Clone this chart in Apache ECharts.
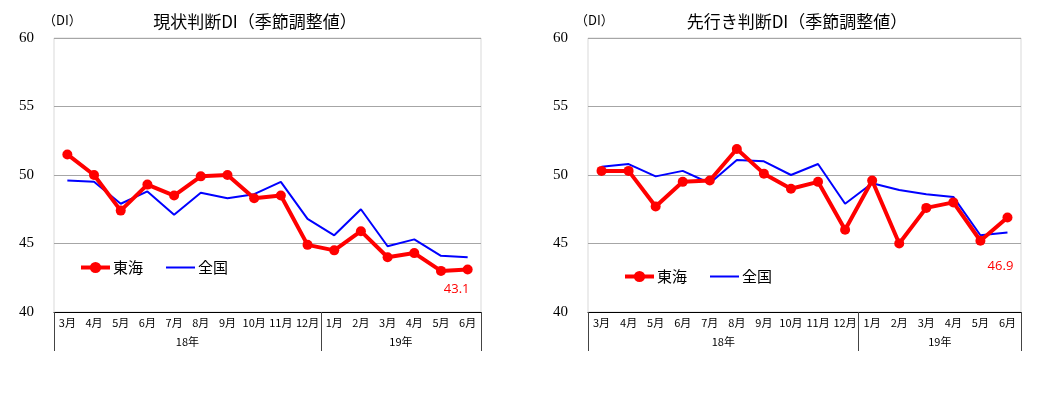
<!DOCTYPE html>
<html><head><meta charset="utf-8">
<script src="https://cdn.jsdelivr.net/npm/echarts@6/dist/echarts.min.js"></script>
<style>html,body{margin:0;padding:0;background:#fff}#c{width:1059px;height:393px}</style>
</head><body><div id="c"></div>
<script>
const months = ['3月','4月','5月','6月','7月','8月','9月','10月','11月','12月','1月','2月','3月','4月','5月','6月'];
const years = ['18年','19年'];
const yearBounds = [0, 10, 16];
const yTicks = [40, 45, 50, 55, 60];
const seriesNames = ['東海','全国'];
const titles = ['現状判断DI（季節調整値）','先行き判断DI（季節調整値）'];
const unitLabel = '（DI）';
const genzyoTokai = [51.5,50.0,47.4,49.3,48.5,49.9,50.0,48.3,48.5,44.9,44.5,45.9,44.0,44.3,43.0,43.1];
const genzyoZenkoku = [49.6,49.5,47.9,48.8,47.1,48.7,48.3,48.6,49.5,46.8,45.6,47.5,44.8,45.3,44.1,44.0];
const sakiTokai = [50.3,50.3,47.7,49.5,49.6,51.9,50.1,49.0,49.5,46.0,49.6,45.0,47.6,48.0,45.2,46.9];
const sakiZenkoku = [50.6,50.8,49.9,50.3,49.4,51.1,51.0,50.0,50.8,47.9,49.4,48.9,48.6,48.4,45.6,45.8];

const FONT = '"Noto Sans CJK JP", "Noto Sans", sans-serif';
const grids = [
  {left: 54, width: 427, top: 38, height: 274},
  {left: 588, width: 433, top: 38, height: 274}
];
const lastLabel = [
  {offset: [-11, 0], distance: 8},
  {offset: [-7, 0], distance: 37}
];
const panels = [[genzyoTokai, genzyoZenkoku], [sakiTokai, sakiZenkoku]];
const titleCenters = [250, 792];
const unitX = [38, 570];
const legendPos = [{left: 74, top: 255}, {left: 618, top: 264}];

const option = {
  animation: false,
  textStyle: {fontFamily: FONT},
  grid: grids.map(g => Object.assign({show: true, borderColor: '#d9d9d9', borderWidth: 1, backgroundColor: '#fff'}, g)),
  title: titles.map((t, i) => ({
    text: t, left: titleCenters[i], top: 8, textAlign: 'center',
    textStyle: {fontFamily: FONT, fontSize: 17, fontWeight: 'normal', color: '#000'}
  })).concat(unitX.map(x => ({
    text: unitLabel, left: x, top: 9,
    textStyle: {fontFamily: FONT, fontSize: 13, fontWeight: 'normal', color: '#000'}
  }))),
  legend: legendPos.map(p => ({
    data: [{name: seriesNames[0]}, {name: seriesNames[1], itemStyle: {opacity: 0}}],
    left: p.left, top: p.top, itemWidth: 29, itemHeight: 14, itemGap: 22,
    lineStyle: {width: 'inherit'},
    textStyle: {fontFamily: FONT, fontSize: 15, color: '#000', padding: [0, 0, 0, -2]}
  })),
  xAxis: [],
  yAxis: grids.map((g, i) => ({
    gridIndex: i, type: 'value', min: yTicks[0], max: yTicks[yTicks.length - 1], interval: 5,
    axisLine: {show: false}, axisTick: {show: false},
    axisLabel: {margin: 20, fontFamily: '"Liberation Serif", serif', fontSize: 15, color: '#000'},
    splitLine: {lineStyle: {color: '#a6a6a6', width: 1}}
  })),
  series: []
};

grids.forEach((g, i) => {
  option.xAxis.push({
    gridIndex: i, type: 'category', data: months, boundaryGap: true, position: 'bottom',
    axisLine: {lineStyle: {color: '#000', width: 1}},
    axisTick: {interval: 0, length: 20, lineStyle: {color: '#000'}},
    axisLabel: {interval: 0, margin: 5, fontSize: 11, color: '#000', fontFamily: FONT}
  });
  option.xAxis.push({
    gridIndex: i, type: 'value', min: 0, max: months.length, position: 'bottom',
    axisLine: {show: false}, splitLine: {show: false},
    axisTick: {show: true, customValues: yearBounds, length: 39, lineStyle: {color: '#444'}},
    axisLabel: {customValues: [5, 13], margin: 24, fontSize: 11, color: '#000', fontFamily: FONT,
      formatter: v => v === 5 ? years[0] : years[1]}
  });
  const [tk, zk] = panels[i];
  option.series.push({
    name: seriesNames[0], type: 'line', xAxisIndex: i * 2, yAxisIndex: i,
    data: tk.map((v, k) => k === tk.length - 1 ? {value: v, label: {
      show: true, position: 'bottom', distance: lastLabel[i].distance, offset: lastLabel[i].offset,
      color: '#ff0000', fontSize: 13, fontFamily: '"Open Sans", sans-serif'}} : v),
    symbol: 'circle', symbolSize: 10, z: 3,
    itemStyle: {color: '#ff0000'}, lineStyle: {color: '#ff0000', width: 4}
  });
  option.series.push({
    name: seriesNames[1], type: 'line', xAxisIndex: i * 2, yAxisIndex: i,
    data: zk, symbol: 'none', showSymbol: false, z: 2,
    itemStyle: {color: '#0000ff'}, lineStyle: {color: '#0000ff', width: 2}
  });
});

echarts.init(document.getElementById('c'), null, {renderer: 'canvas'}).setOption(option);
</script></body></html>
